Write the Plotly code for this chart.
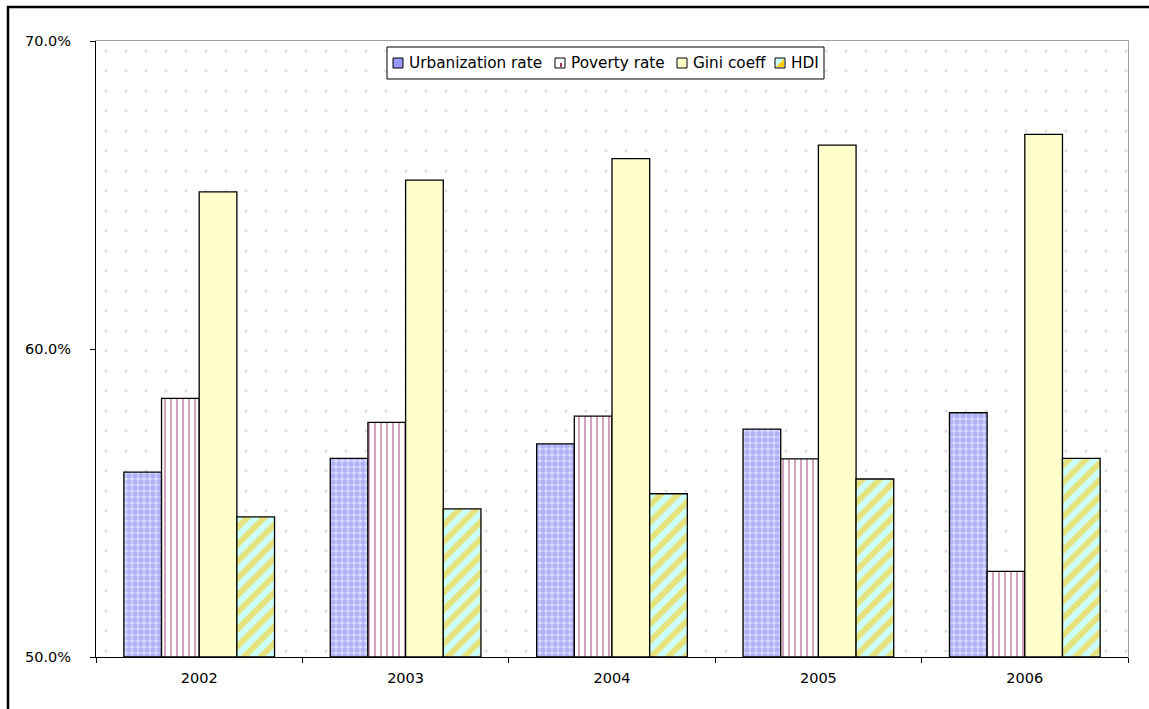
import plotly.graph_objects as go

# Indicator values by year (percent)
years = ["2002", "2003", "2004", "2005", "2006"]
urbanization = [56.0, 56.45, 56.92, 57.4, 57.93]
poverty = [58.4, 57.62, 57.82, 56.43, 52.78]
gini = [65.1, 65.48, 66.18, 66.62, 66.97]
hdi = [54.55, 54.81, 55.3, 55.78, 56.45]

series_names = ["Urbanization rate", "Poverty rate", "Gini coeff", "HDI"]

FONT = "DejaVu Sans"

# pixel geometry of the plot area
W, H = 1149, 709
L, R, T, B = 96, 21, 41, 52
pw, ph = W - L - R, H - T - B


def px_x(p):
    return (p - L) / pw


def px_y(p):
    return (H - B - p) / ph


fig = go.Figure()

# dotted backdrop filling the plot area (hidden numeric axis underneath)
fig.add_trace(go.Bar(
    x=[0.5], y=[20], base=[50], width=[1.0],
    xaxis="x", yaxis="y",
    marker=dict(color="white", line=dict(width=0),
                pattern=dict(shape=".", fgcolor="#b8b8b8", bgcolor="white",
                             size=20, solidity=0.02)),
    showlegend=False, hoverinfo="skip",
))

styles = [
    dict(color="#9999FF", pattern=dict(shape=".", fgcolor="#8585f2", bgcolor="#dcdcff", size=6, solidity=0.62)),
    dict(color="#993366", pattern=dict(shape="|", fgcolor="#a8457a", bgcolor="white", size=6, solidity=0.35)),
    dict(color="#FFFFCC"),
    dict(color="#FFCC00", pattern=dict(shape="/", fgcolor="#FFC800", bgcolor="#CCFFFF", size=12, solidity=0.5)),
]

for name, vals, st in zip(series_names, [urbanization, poverty, gini, hdi], styles):
    fig.add_trace(go.Bar(
        name=name, x=years, y=[v - 50 for v in vals], base=50,
        xaxis="x2", yaxis="y",
        marker=dict(line=dict(color="black", width=1.3), **st),
        showlegend=False,
    ))

shapes = [
    # gray border of the plot area
    dict(type="rect", xref="paper", yref="paper", x0=0, x1=1, y0=0, y1=1,
         line=dict(color="#808080", width=1.5), layer="below"),
    # outer chart frame
    dict(type="rect", xref="paper", yref="paper",
         x0=px_x(8), x1=px_x(1160), y0=px_y(720), y1=px_y(7),
         line=dict(color="black", width=2.5)),
    # legend box
    dict(type="rect", xref="paper", yref="paper",
         x0=px_x(387), x1=px_x(824), y0=px_y(79), y1=px_y(47),
         fillcolor="white", line=dict(color="black", width=1)),
]

annotations = []

# legend entries: swatch left edge (px) and label left edge (px)
legend_pos = [(393, 407), (555, 569), (677, 691), (775, 789)]
sw_top, sw_bot = 58, 68


def square(x0, fill):
    return dict(type="rect", xref="paper", yref="paper",
                x0=px_x(x0), x1=px_x(x0 + 10), y0=px_y(sw_bot), y1=px_y(sw_top),
                fillcolor=fill, line=dict(color="black", width=1))


(x_u, t_u), (x_p, t_p), (x_g, t_g), (x_h, t_h) = legend_pos
shapes.append(square(x_u, "#9999FF"))
shapes.append(square(x_p, "white"))
shapes.append(dict(type="rect", xref="paper", yref="paper",
                   x0=px_x(x_p + 5), x1=px_x(x_p + 7), y0=px_y(sw_bot - 1), y1=px_y(sw_bot - 5),
                   fillcolor="#993366", line=dict(width=0)))
shapes.append(square(x_g, "#FFFFCC"))
shapes.append(square(x_h, "#CCFFFF"))
shapes.append(dict(type="path", xref="paper", yref="paper",
                   path=(f"M {px_x(x_h + 1)},{px_y(sw_bot - 1)} L {px_x(x_h + 9)},{px_y(sw_bot - 1)} "
                         f"L {px_x(x_h + 9)},{px_y(sw_top + 1)} Z"),
                   fillcolor="#FFCC00", line=dict(width=0)))

for name, tx in zip(series_names, [t_u, t_p, t_g, t_h]):
    annotations.append(dict(
        text=name, xref="paper", yref="paper", x=px_x(tx), y=px_y(63),
        xanchor="left", yanchor="middle", showarrow=False,
        font=dict(family=FONT, size=15.3, color="black"),
    ))

fig.update_layout(
    width=W, height=H,
    margin=dict(l=L, r=R, t=T, b=B),
    paper_bgcolor="white",
    plot_bgcolor="white",
    barmode="group",
    bargap=0.27,
    bargroupgap=0,
    font=dict(family=FONT, size=14.5, color="black"),
    xaxis=dict(range=[0, 1], visible=False, fixedrange=True),
    xaxis2=dict(
        overlaying="x", type="category", side="bottom",
        showline=True, linecolor="black", linewidth=1,
        ticks="outside", tickson="boundaries", ticklen=5, tickcolor="black",
        ticklabelstandoff=8,
        showgrid=False, tickfont=dict(family=FONT, size=14.5),
    ),
    yaxis=dict(
        range=[50, 70], tickvals=[50, 60, 70],
        ticktext=["50.0%", "60.0%", "70.0%"],
        showline=True, linecolor="black", linewidth=1,
        ticks="outside", ticklen=5, tickcolor="black",
        ticklabelstandoff=16,
        showgrid=False, zeroline=False,
        tickfont=dict(family=FONT, size=14.5),
    ),
    showlegend=False,
    shapes=shapes,
    annotations=annotations,
)

fig.write_html("out.html")
